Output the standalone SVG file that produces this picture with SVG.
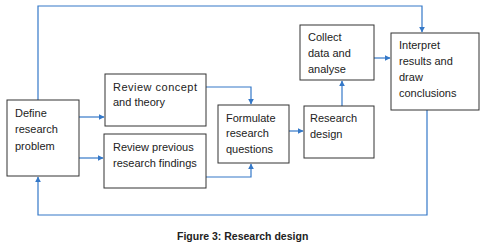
<svg xmlns="http://www.w3.org/2000/svg" width="487" height="249" viewBox="0 0 487 249">
<style>
.box{fill:#fff;stroke:#333;stroke-width:1}
.t{font-family:"Liberation Sans",Arial,sans-serif;font-size:11px;fill:#222}
.c{fill:none;stroke:#3478c8;stroke-width:1.2}
.cap{font-family:"Liberation Sans",Arial,sans-serif;font-size:10.5px;font-weight:bold;fill:#222}
</style>
<defs>
<marker id="ah" viewBox="0 0 10 10" refX="9" refY="5" markerWidth="6" markerHeight="6" markerUnits="userSpaceOnUse" orient="auto">
<path d="M0,0 L10,5 L0,10 z" fill="#3478c8"/>
</marker>
</defs>
<rect width="487" height="249" fill="#fff"/>
<g id="connectors">
<path class="c" d="M38,100 V6 H422 V32" marker-end="url(#ah)"/>
<path class="c" d="M79,117 H104" marker-end="url(#ah)"/>
<path class="c" d="M79,158 H103" marker-end="url(#ah)"/>
<path class="c" d="M206,87 H251 V104" marker-end="url(#ah)"/>
<path class="c" d="M206,177 H251 V164" marker-end="url(#ah)"/>
<path class="c" d="M289,131 H303" marker-end="url(#ah)"/>
<path class="c" d="M342,106 V81" marker-end="url(#ah)"/>
<path class="c" d="M374,58 H390" marker-end="url(#ah)"/>
<path class="c" d="M427,110 V215 H38 V177" marker-end="url(#ah)"/>
</g>
<g id="define">
<rect class="box" x="7" y="100" width="72" height="76"/>
<text class="t" x="15" y="117">Define</text>
<text class="t" x="15" y="133">research</text>
<text class="t" x="15" y="150">problem</text>
</g>
<g id="review-concept">
<rect class="box" x="105" y="74" width="101" height="52"/>
<text class="t" x="113" y="91" textLength="84" lengthAdjust="spacing">Review  concept</text>
<text class="t" x="113" y="106">and theory</text>
</g>
<g id="review-previous">
<rect class="box" x="104" y="134" width="102" height="54"/>
<text class="t" x="113" y="151">Review previous</text>
<text class="t" x="113" y="167">research findings</text>
</g>
<g id="formulate">
<rect class="box" x="218" y="105" width="71" height="58"/>
<text class="t" x="226" y="122">Formulate</text>
<text class="t" x="226" y="137">research</text>
<text class="t" x="226" y="153">questions</text>
</g>
<g id="research-design">
<rect class="box" x="304" y="106" width="70" height="52"/>
<text class="t" x="310" y="122">Research</text>
<text class="t" x="310" y="138">design</text>
</g>
<g id="collect">
<rect class="box" x="300" y="25" width="74" height="55"/>
<text class="t" x="308" y="41">Collect</text>
<text class="t" x="308" y="57">data and</text>
<text class="t" x="308" y="73">analyse</text>
</g>
<g id="interpret">
<rect class="box" x="391" y="33" width="88" height="77"/>
<text class="t" x="399" y="49">Interpret</text>
<text class="t" x="399" y="65">results and</text>
<text class="t" x="399" y="81">draw</text>
<text class="t" x="399" y="97">conclusions</text>
</g>
<text class="cap" x="177" y="240">Figure 3: Research design</text>
</svg>
